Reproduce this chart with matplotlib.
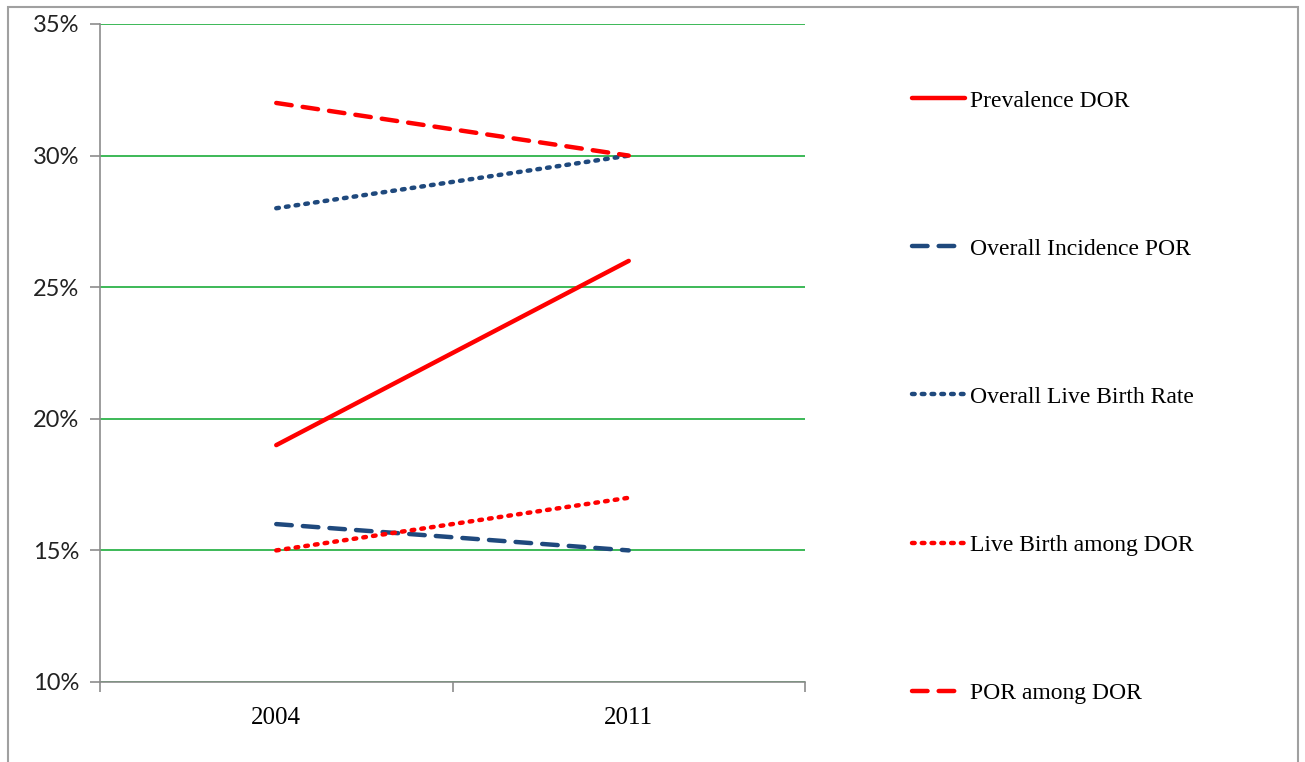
import matplotlib
matplotlib.use("Agg")
import matplotlib.pyplot as plt
from matplotlib.patches import Rectangle
from matplotlib.ticker import FuncFormatter

years = ["2004", "2011"]
series_names = ["Prevalence DOR", "Overall Incidence POR", "Overall Live Birth Rate",
                "Live Birth among DOR", "POR among DOR"]
prevalence_dor = [0.19, 0.26]
overall_incidence_por = [0.16, 0.15]
overall_live_birth = [0.28, 0.30]
live_birth_among_dor = [0.15, 0.17]
por_among_dor = [0.32, 0.30]
y_ticks = [0.10, 0.15, 0.20, 0.25, 0.30, 0.35]

RED = "#FF0000"
NAVY = "#1F497D"
GREEN = "#2DB34A"
GRAY = "#8C8C8C"

fig = plt.figure(figsize=(13.05, 7.62), dpi=100)
W, H = 1305, 762
ax = fig.add_axes([100 / W, (H - 682) / H, (805 - 100) / W, (682 - 24) / H])

x = list(range(len(years)))
styles = [
    (prevalence_dor, RED, "-"),
    (overall_incidence_por, NAVY, (0, (3.5, 2.5))),
    (overall_live_birth, NAVY, (0, (0.6, 1.6))),
    (live_birth_among_dor, RED, (0, (0.6, 1.6))),
    (por_among_dor, RED, (0, (3.5, 2.5))),
]
lines = []
for (vals, col, ls), name in zip(styles, series_names):
    ln, = ax.plot(x, vals, color=col, linestyle=ls, linewidth=3.2,
                  solid_capstyle="round", dash_capstyle="round", label=name, zorder=3)
    lines.append(ln)

ax.set_xlim(-0.5, 1.5)
ax.set_ylim(0.10, 0.35)
ax.set_yticks(y_ticks)
ax.yaxis.set_major_formatter(FuncFormatter(lambda v, p: f"{v * 100:.0f}%"))
ax.grid(axis="y", color=GREEN, linewidth=1.3, zorder=1)
ax.set_axisbelow(True)

ax.set_xticks(x)
ax.set_xticklabels(years, fontfamily="Liberation Serif", fontsize=18)
ax.tick_params(axis="x", which="major", length=0, pad=18)
ax.set_xticks([-0.5, 0.5, 1.5], minor=True)
ax.tick_params(axis="x", which="minor", length=7, color=GRAY, width=1.2, direction="out")
ax.tick_params(axis="y", length=7, color=GRAY, width=1.2, direction="out", pad=8)
for lab in ax.get_yticklabels():
    lab.set_fontfamily("Lato")
    lab.set_fontsize(17)
    lab.set_color("#222222")

for s in ["top", "right"]:
    ax.spines[s].set_visible(False)
for s in ["left", "bottom"]:
    ax.spines[s].set_color(GRAY)
    ax.spines[s].set_linewidth(1.2)

leg = fig.legend(handles=lines, loc="upper left", bbox_to_anchor=(912 / W, 1 - 90 / H),
                 frameon=False, prop={"family": "Liberation Serif", "size": 17},
                 labelspacing=5.36, handlelength=2.25, handletextpad=0.2,
                 borderaxespad=0, borderpad=0)

fig.patches.append(Rectangle((8 / W, -0.05), (1298 - 8) / W, 1.05 - 7 / H,
                             transform=fig.transFigure, fill=False,
                             edgecolor="#A0A0A0", linewidth=1.5))

fig.savefig("out.png", dpi=100)
